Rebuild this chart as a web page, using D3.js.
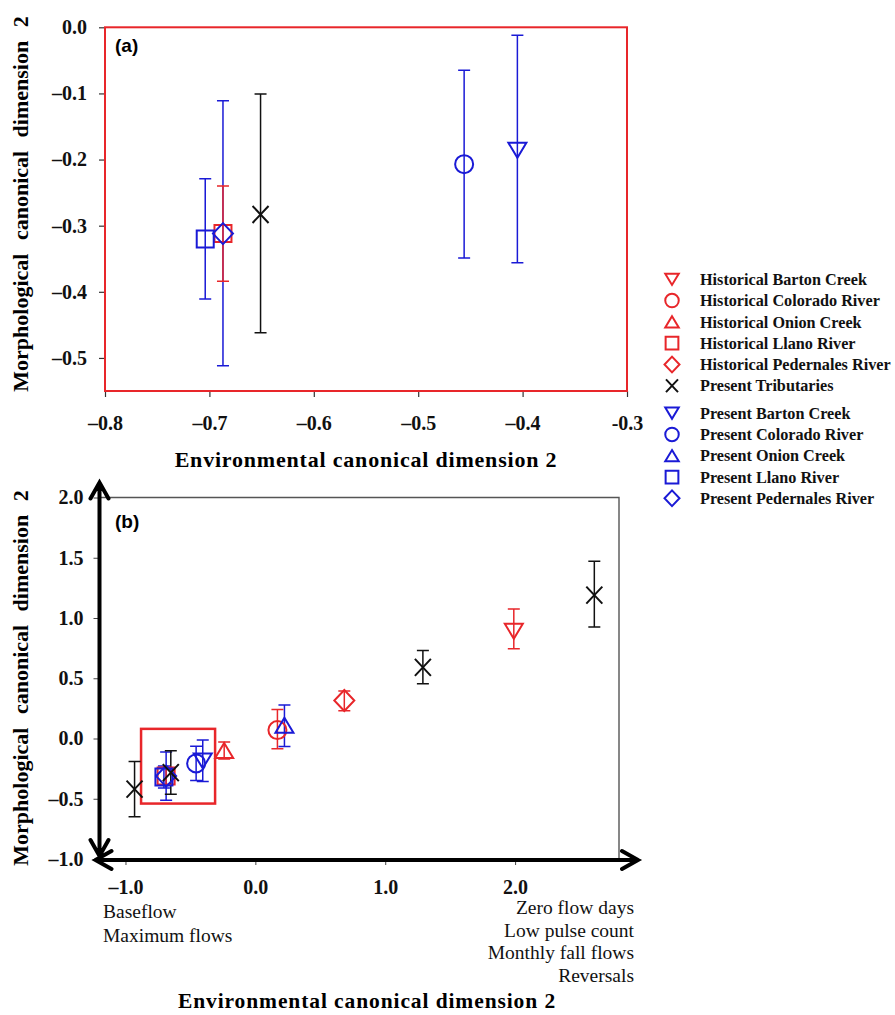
<!DOCTYPE html>
<html lang="en">
<head>
<meta charset="UTF-8">
<title>Canonical dimensions</title>
<script src="https://d3js.org/d3.v7.min.js"></script>
<style>
  body { margin: 0; background: #fff; }
  svg { display: block; }
  .serif { font-family: "Liberation Serif", "Times New Roman", serif; }
</style>
</head>
<body>
<svg id="chart" width="895" height="1015"></svg>
<script>
// ---- data ----
const riverNames = ["Barton Creek", "Colorado River", "Onion Creek", "Llano River", "Pedernales River"];
const riverShapes = ["triDown", "circle", "triUp", "square", "diamond"];

// historical sites
const histX = [1.99, 0.17, -0.24, -0.687, 0.685];
const histY = [0.89, 0.07, -0.10, -0.312, 0.315];
const histLo = [0.745, -0.085, -0.17, -0.384, 0.23];
const histHi = [1.075, 0.24, -0.03, -0.240, 0.395];

// present sites
const presX = [-0.405, -0.456, 0.224, -0.704, -0.687];
const presY = [-0.186, -0.207, 0.11, -0.320, -0.312];
const presLo = [-0.356, -0.349, -0.066, -0.411, -0.512];
const presHi = [-0.012, -0.065, 0.279, -0.229, -0.111];

// present tributaries
const tribX = [-0.93, -0.651, 1.29, 2.61];
const tribY = [-0.42, -0.283, 0.59, 1.19];
const tribLo = [-0.65, -0.462, 0.455, 0.925];
const tribHi = [-0.19, -0.101, 0.73, 1.47];

// axes
const xTicksA = [-0.8, -0.7, -0.6, -0.5, -0.4, -0.3];
const xTickLabelsA = ["\u20130.8", "\u20130.7", "\u20130.6", "\u20130.5", "\u20130.4", "-0.3"];
const yTicksA = [0, -0.1, -0.2, -0.3, -0.4, -0.5];
const yTickLabelsA = ["0.0", "\u20130.1", "\u20130.2", "\u20130.3", "\u20130.4", "\u20130.5"];
const xTicksB = [-1, 0, 1, 2];
const xTickLabelsB = ["\u20131.0", "0.0", "1.0", "2.0"];
const yTicksB = [2, 1.5, 1, 0.5, 0, -0.5, -1];
const yTickLabelsB = ["2.0", "1.5", "1.0", "0.5", "0.0", "\u20130.5", "\u20131.0"];
const zoomBoxX = [-0.88, -0.31];
const zoomBoxY = [-0.54, 0.08];

const leftNotes = ["Baseflow", "Maximum flows"];
const rightNotes = ["Zero flow days", "Low pulse count", "Monthly fall flows", "Reversals"];

const RED = "#e8262a", BLUE = "#1a1ad6", BLACK = "#111";

// build point table
const points = [];
histX.forEach((x, i) => points.push({x, y: histY[i], lo: histLo[i], hi: histHi[i], shape: riverShapes[i], color: RED, order: 1}));
presX.forEach((x, i) => points.push({x, y: presY[i], lo: presLo[i], hi: presHi[i], shape: riverShapes[i], color: BLUE, order: 2}));
tribX.forEach((x, i) => points.push({x, y: tribY[i], lo: tribLo[i], hi: tribHi[i], shape: "cross", color: BLACK, order: 3}));

const legendItems = riverNames.map((n, i) => ({label: "Historical " + n, shape: riverShapes[i], color: RED}))
  .concat([{label: "Present Tributaries", shape: "cross", color: BLACK}])
  .concat(riverNames.map((n, i) => ({label: "Present " + n, shape: riverShapes[i], color: BLUE})));

// marker outlines centred on 0,0
function shapePath(type, k) {
  const p = d3.path();
  if (type === "triDown") {
    p.moveTo(-9 * k, -7.5 * k); p.lineTo(9 * k, -7.5 * k); p.lineTo(0, 7.5 * k); p.closePath();
  } else if (type === "triUp") {
    p.moveTo(0, -7.5 * k); p.lineTo(9 * k, 7.5 * k); p.lineTo(-9 * k, 7.5 * k); p.closePath();
  } else if (type === "circle") {
    p.arc(0, 0, 9 * k, 0, 2 * Math.PI);
  } else if (type === "square") {
    p.rect(-8.5 * k, -8.5 * k, 17 * k, 17 * k);
  } else if (type === "diamond") {
    p.moveTo(0, -10.5 * k); p.lineTo(10 * k, 0); p.lineTo(0, 10.5 * k); p.lineTo(-10 * k, 0); p.closePath();
  } else {
    p.moveTo(-8 * k, -8.5 * k); p.lineTo(8 * k, 8.5 * k);
    p.moveTo(8 * k, -8.5 * k); p.lineTo(-8 * k, 8.5 * k);
  }
  return p.toString();
}

const svg = d3.select("#chart");

function drawPoints(g, xs, ys, data) {
  const errOrder = [2, 1, 3];
  errOrder.forEach(o => {
    data.filter(d => d.order === o).forEach(d => {
      const x = xs(d.x);
      g.append("path")
        .attr("d", `M${x},${ys(d.lo)}V${ys(d.hi)}M${x - 6},${ys(d.lo)}H${x + 6}M${x - 6},${ys(d.hi)}H${x + 6}`)
        .attr("stroke", d.color).attr("stroke-width", 1.5).attr("fill", "none");
    });
  });
  [1, 2, 3].forEach(o => {
    data.filter(d => d.order === o).forEach(d => {
      g.append("path")
        .attr("transform", `translate(${xs(d.x)},${ys(d.y)})`)
        .attr("d", shapePath(d.shape, 1))
        .attr("fill", "none").attr("stroke", d.color).attr("stroke-width", 2);
    });
  });
}

// ---------- panel (a) ----------
const xA = d3.scaleLinear().domain([-0.8, -0.3]).range([105, 627]);
const yA = d3.scaleLinear().domain([-0.55, 0]).range([391, 27.3]);
const gA = svg.append("g");

const axA = gA.append("g").attr("transform", `translate(0,${yA(-0.55)})`)
  .call(d3.axisBottom(xA).tickValues(xTicksA).tickFormat((d, i) => xTickLabelsA[i]).tickSize(6).tickPadding(19));
const ayA = gA.append("g").attr("transform", `translate(${xA(-0.8)},0)`)
  .call(d3.axisLeft(yA).tickValues(yTicksA).tickFormat((d, i) => yTickLabelsA[i]).tickSize(6).tickPadding(12));
[axA, ayA].forEach(a => {
  a.select(".domain").remove();
  a.selectAll("line").attr("stroke", "#333").attr("stroke-width", 1.2);
  a.selectAll("text").attr("class", "serif").attr("font-size", 20).attr("font-weight", "bold").attr("fill", "#111");
});

gA.append("rect")
  .attr("x", xA(-0.8)).attr("y", yA(0))
  .attr("width", xA(-0.3) - xA(-0.8)).attr("height", yA(-0.55) - yA(0))
  .attr("fill", "none").attr("stroke", RED).attr("stroke-width", 2);

svg.append("clipPath").attr("id", "clipA").append("rect")
  .attr("x", xA(-0.8)).attr("y", yA(0) - 20).attr("width", xA(-0.3) - xA(-0.8)).attr("height", yA(-0.55) - yA(0) + 40);
const inA = points.filter(d => d.x >= -0.8 && d.x <= -0.3);
drawPoints(gA.append("g").attr("clip-path", "url(#clipA)"), xA, yA, inA);

gA.append("text").attr("x", 115).attr("y", 52)
  .attr("font-family", "Liberation Sans, Arial, sans-serif").attr("font-weight", "bold").attr("font-size", 19)
  .text("(a)");

gA.append("text").attr("class", "serif")
  .attr("x", 366).attr("y", 467).attr("text-anchor", "middle")
  .attr("font-size", 22).attr("font-weight", "bold").attr("letter-spacing", 0.8)
  .text("Environmental canonical dimension 2");

gA.append("text").attr("class", "serif")
  .attr("transform", "translate(28,204) rotate(-90)").attr("text-anchor", "middle")
  .attr("font-size", 22).attr("font-weight", "bold").attr("word-spacing", 8)
  .text("Morphological canonical dimension 2");

// ---------- legend ----------
const legend = svg.append("g");
legendItems.forEach((d, i) => {
  const y = 279.3 + i * 21.3 + (i >= 6 ? 6 : 0);
  legend.append("path")
    .attr("transform", `translate(672,${y})`)
    .attr("d", shapePath(d.shape, 0.75))
    .attr("fill", "none").attr("stroke", d.color).attr("stroke-width", 2);
  legend.append("text").attr("class", "serif")
    .attr("x", 700).attr("y", y).attr("dy", "0.35em")
    .attr("font-size", 16.2).attr("font-weight", "bold").attr("fill", "#111")
    .text(d.label);
});

// ---------- panel (b) ----------
const xB = d3.scaleLinear().domain([-1.2, 2.8]).range([99.5, 619]);
const yB = d3.scaleLinear().domain([-1, 2]).range([859, 497.5]);
const gB = svg.append("g");

const axB = gB.append("g").attr("transform", `translate(0,${yB(-1)})`)
  .call(d3.axisBottom(xB).tickValues(xTicksB).tickFormat((d, i) => xTickLabelsB[i]).tickSize(6).tickPadding(15));
const ayB = gB.append("g").attr("transform", `translate(${xB(-1.2)},0)`)
  .call(d3.axisLeft(yB).tickValues(yTicksB).tickFormat((d, i) => yTickLabelsB[i]).tickSize(6).tickPadding(10));
[axB, ayB].forEach(a => {
  a.select(".domain").remove();
  a.selectAll("line").attr("stroke", "#444").attr("stroke-width", 1);
  a.selectAll("text").attr("class", "serif").attr("font-size", 20).attr("font-weight", "bold").attr("fill", "#111");
});

// thin frame (top and right)
gB.append("path")
  .attr("d", `M${xB(-1.2)},${yB(2)}H${xB(2.8)}V${yB(-1)}`)
  .attr("fill", "none").attr("stroke", "#555").attr("stroke-width", 1.4);

// double-headed arrow axes
const x0 = xB(-1.2), y0 = yB(-1) + 1;
const arrows = d3.path();
arrows.moveTo(x0, yB(-1) - 3); arrows.lineTo(x0, yB(2) - 15);
arrows.moveTo(x0 - 9, yB(2) + 1); arrows.lineTo(x0, yB(2) - 15); arrows.lineTo(x0 + 9, yB(2) + 1);
arrows.moveTo(x0 - 9, yB(-1) - 19); arrows.lineTo(x0, yB(-1) - 3); arrows.lineTo(x0 + 9, yB(-1) - 19);
arrows.moveTo(x0 - 4, y0); arrows.lineTo(xB(2.8) + 19, y0);
arrows.moveTo(x0 + 12, y0 - 9); arrows.lineTo(x0 - 4, y0); arrows.lineTo(x0 + 12, y0 + 9);
arrows.moveTo(xB(2.8) + 3, y0 - 9); arrows.lineTo(xB(2.8) + 19, y0); arrows.lineTo(xB(2.8) + 3, y0 + 9);
gB.append("path").attr("d", arrows.toString())
  .attr("fill", "none").attr("stroke", "#000").attr("stroke-width", 4)
  .attr("stroke-linejoin", "miter").attr("stroke-linecap", "round");

// zoom box
gB.append("rect")
  .attr("x", xB(zoomBoxX[0])).attr("y", yB(zoomBoxY[1]))
  .attr("width", xB(zoomBoxX[1]) - xB(zoomBoxX[0])).attr("height", yB(zoomBoxY[0]) - yB(zoomBoxY[1]))
  .attr("fill", "none").attr("stroke", RED).attr("stroke-width", 2.5);

drawPoints(gB.append("g"), xB, yB, points);

gB.append("text").attr("x", 115).attr("y", 528)
  .attr("font-family", "Liberation Sans, Arial, sans-serif").attr("font-weight", "bold").attr("font-size", 19)
  .text("(b)");

gB.append("text").attr("class", "serif")
  .attr("transform", "translate(28,678) rotate(-90)").attr("text-anchor", "middle")
  .attr("font-size", 22).attr("font-weight", "bold").attr("word-spacing", 8)
  .text("Morphological canonical dimension 2");

gB.append("text").attr("class", "serif")
  .attr("x", 367).attr("y", 1008).attr("text-anchor", "middle")
  .attr("font-size", 21.5).attr("font-weight", "bold").attr("letter-spacing", 0.9)
  .text("Environmental canonical dimension 2");

leftNotes.forEach((t, i) => {
  gB.append("text").attr("class", "serif")
    .attr("x", 103).attr("y", 918 + i * 23.5)
    .attr("font-size", 19.5).attr("fill", "#111").text(t);
});
rightNotes.forEach((t, i) => {
  gB.append("text").attr("class", "serif")
    .attr("x", 634).attr("y", 914 + i * 22.5).attr("text-anchor", "end")
    .attr("font-size", 19.5).attr("fill", "#111").text(t);
});
</script>
</body>
</html>
